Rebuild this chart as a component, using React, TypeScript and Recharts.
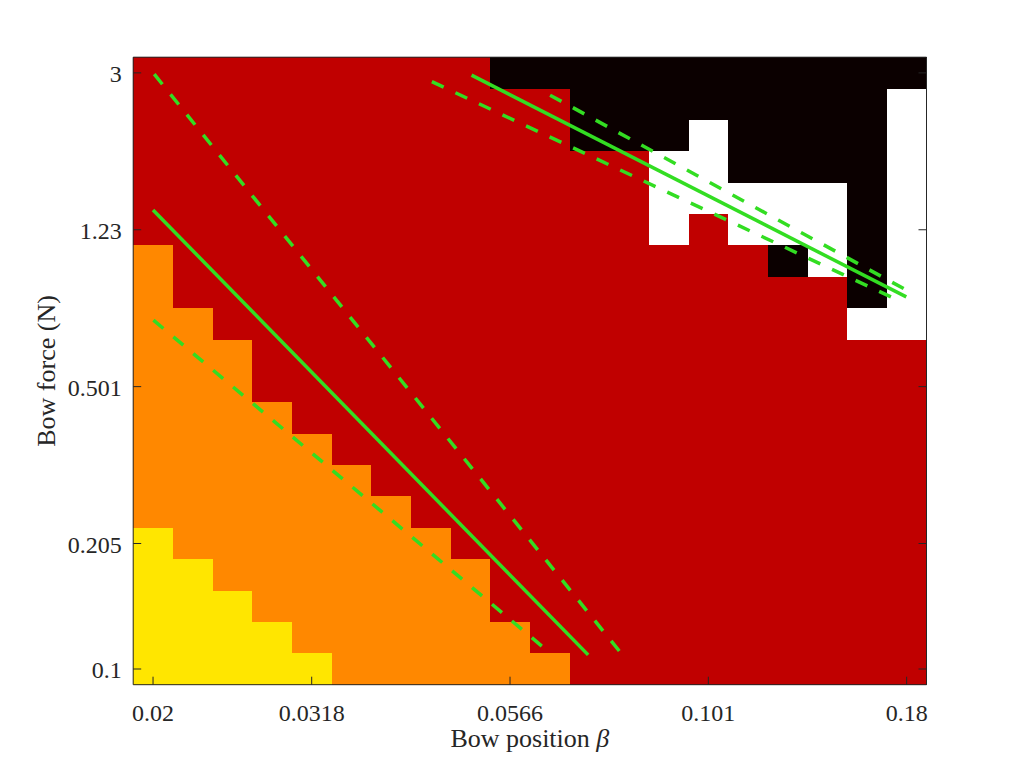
import { ComposedChart, Line, ReferenceArea, XAxis, YAxis } from 'recharts';

// bow position beta (columns) and bow force (rows), 20 x 20 grid, axes use the grid index
const X_TICKS = [1, 5, 10, 15, 20];
const X_TICK_LABELS = ['0.02', '0.0318', '0.0566', '0.101', '0.18'];
const Y_TICKS = [1, 5, 10, 15, 20];
const Y_TICK_LABELS = ['0.1', '0.205', '0.501', '1.23', '3'];

// regime per cell, first string = top row (3 N), first char = beta 0.02
// K black, R red, O orange, Y yellow, W white
const REGIME_ROWS = [
    'RRRRRRRRRKKKKKKKKKKK',
    'RRRRRRRRRRRKKKKKKKKW',
    'RRRRRRRRRRRKKKWKKKKW',
    'RRRRRRRRRRRRRWWKKKKW',
    'RRRRRRRRRRRRRWWWWWKW',
    'RRRRRRRRRRRRRWRWWWKW',
    'ORRRRRRRRRRRRRRRKWKW',
    'ORRRRRRRRRRRRRRRRRKW',
    'OORRRRRRRRRRRRRRRRWW',
    'OOORRRRRRRRRRRRRRRRR',
    'OOORRRRRRRRRRRRRRRRR',
    'OOOORRRRRRRRRRRRRRRR',
    'OOOOORRRRRRRRRRRRRRR',
    'OOOOOORRRRRRRRRRRRRR',
    'OOOOOOORRRRRRRRRRRRR',
    'YOOOOOOORRRRRRRRRRRR',
    'YYOOOOOOORRRRRRRRRRR',
    'YYYOOOOOORRRRRRRRRRR',
    'YYYYOOOOOORRRRRRRRRR',
    'YYYYYOOOOOORRRRRRRRR',
];

const REGIME_COLORS: Record<string, string> = {
    K: '#0b0000',
    R: '#c00000',
    O: '#ff8800',
    Y: '#ffe600',
    W: '#ffffff',
};

// limit lines (grid index coordinates)
const LOW_MID = [{ x: 1.0, y: 15.63 }, { x: 11.97, y: 1.45 }];
const LOW_UPPER = [{ x: 1.03, y: 19.96 }, { x: 12.77, y: 1.55 }];
const LOW_LOWER = [{ x: 1.01, y: 12.12 }, { x: 11.01, y: 1.51 }];
const HIGH_MID = [{ x: 9.03, y: 19.93 }, { x: 19.99, y: 12.86 }];
const HIGH_UPPER = [{ x: 11.01, y: 19.29 }, { x: 19.96, y: 13.1 }];
const HIGH_LOWER = [{ x: 8.03, y: 19.72 }, { x: 19.87, y: 12.7 }];

const W = 1024;
const H = 768;
const PLOT = { left: 133.2, right: 926.5, top: 57.2, bottom: 684.7 };
const AXIS = '#262626';
const GREEN = '#33dd22';
const FONT = '"Liberation Serif", "Times New Roman", serif';
const TICK_FONT = 24;
const TITLE_FONT = 26;
const TICK_LEN = 8;

const cells: { x1: number; x2: number; y1: number; y2: number; fill: string }[] = [];
REGIME_ROWS.forEach((row, i) => {
    const r = REGIME_ROWS.length - i;
    let start = 0;
    for (let c = 1; c <= row.length; c++) {
        if (c === row.length || row[c] !== row[start]) {
            cells.push({ x1: start + 0.5, x2: c + 0.5, y1: r - 0.5, y2: r + 0.5, fill: REGIME_COLORS[row[start]] });
            start = c;
        }
    }
});

const labelOf = (ticks: number[], labels: string[], v: number) => labels[ticks.indexOf(v)] ?? '';

const BottomTick = ({ x, y, payload }: any) => (
    <g>
        <line x1={x} y1={y} x2={x} y2={y - TICK_LEN} stroke={AXIS} strokeWidth={1} />
        <text x={x} y={y + 36} textAnchor="middle" fontSize={TICK_FONT} fontFamily={FONT} fill={AXIS}>
            {labelOf(X_TICKS, X_TICK_LABELS, payload.value)}
        </text>
    </g>
);

const TopTick = ({ x, y }: any) => (
    <line x1={x} y1={y} x2={x} y2={y + TICK_LEN} stroke={AXIS} strokeWidth={1} />
);

const LeftTick = ({ x, y, payload }: any) => (
    <g>
        <line x1={x} y1={y} x2={x + TICK_LEN} y2={y} stroke={AXIS} strokeWidth={1} />
        <text x={x - 11.5} y={y + 9} textAnchor="end" fontSize={TICK_FONT} fontFamily={FONT} fill={AXIS}>
            {labelOf(Y_TICKS, Y_TICK_LABELS, payload.value)}
        </text>
    </g>
);

const RightTick = ({ x, y }: any) => (
    <line x1={x} y1={y} x2={x - TICK_LEN} y2={y} stroke={AXIS} strokeWidth={1} />
);

const XTitle = () => (
    <text x={(PLOT.left + PLOT.right) / 2} y={747} textAnchor="middle" fontSize={TITLE_FONT} fontFamily={FONT} fill={AXIS}>
        Bow position <tspan fontStyle="italic">β</tspan>
    </text>
);

const YTitle = () => {
    const cx = 55;
    const cy = (PLOT.top + PLOT.bottom) / 2;
    return (
        <text x={cx} y={cy} transform={`rotate(-90 ${cx} ${cy})`} textAnchor="middle" fontSize={TITLE_FONT} fontFamily={FONT} fill={AXIS}>
            Bow force (N)
        </text>
    );
};

const App = () => {
    const series = [
        { key: 'low-mid', data: LOW_MID, dash: undefined },
        { key: 'low-upper', data: LOW_UPPER, dash: '13 13' },
        { key: 'low-lower', data: LOW_LOWER, dash: '13 13' },
        { key: 'high-mid', data: HIGH_MID, dash: undefined },
        { key: 'high-upper', data: HIGH_UPPER, dash: '13 13' },
        { key: 'high-lower', data: HIGH_LOWER, dash: '13 13' },
    ];

    return (
        <div style={{ position: 'absolute', left: 0, top: 0, width: W, height: H, background: '#fff' }}>
            <ComposedChart
                width={W}
                height={H}
                margin={{ top: PLOT.top - 1, right: W - PLOT.right - 1, bottom: 0, left: 0 }}
            >
                {cells.map((c, i) => (
                    <ReferenceArea
                        key={`cell-${i}`}
                        xAxisId="b"
                        yAxisId="l"
                        x1={c.x1}
                        x2={c.x2}
                        y1={c.y1}
                        y2={c.y2}
                        fill={c.fill}
                        fillOpacity={1}
                        stroke="none"
                        shapeRendering="crispEdges"
                    />
                ))}

                {series.map((s) => (
                    <Line
                        key={s.key}
                        xAxisId="b"
                        yAxisId="l"
                        data={s.data}
                        dataKey="y"
                        type="linear"
                        stroke={GREEN}
                        strokeWidth={3.5}
                        strokeDasharray={s.dash}
                        dot={false}
                        activeDot={false}
                        isAnimationActive={false}
                    />
                ))}

                <XAxis
                    xAxisId="b"
                    dataKey="x"
                    type="number"
                    domain={[0.5, 20.5]}
                    ticks={X_TICKS}
                    height={H - PLOT.bottom}
                    tickSize={0}
                    tickMargin={0}
                    tickLine={false}
                    axisLine={{ stroke: AXIS, strokeWidth: 1 }}
                    tick={<BottomTick />}
                    interval={0}
                    allowDataOverflow
                    label={<XTitle />}
                />
                <XAxis
                    xAxisId="t"
                    orientation="top"
                    type="number"
                    domain={[0.5, 20.5]}
                    ticks={X_TICKS}
                    height={1}
                    tickSize={0}
                    tickMargin={0}
                    tickLine={false}
                    axisLine={{ stroke: AXIS, strokeWidth: 1 }}
                    tick={<TopTick />}
                    interval={0}
                    allowDataOverflow
                />
                <YAxis
                    yAxisId="l"
                    type="number"
                    domain={[0.5, 20.5]}
                    ticks={Y_TICKS}
                    width={PLOT.left}
                    tickSize={0}
                    tickMargin={0}
                    tickLine={false}
                    axisLine={{ stroke: AXIS, strokeWidth: 1 }}
                    tick={<LeftTick />}
                    interval={0}
                    allowDataOverflow
                    label={<YTitle />}
                />
                <YAxis
                    yAxisId="r"
                    orientation="right"
                    type="number"
                    domain={[0.5, 20.5]}
                    ticks={Y_TICKS}
                    width={1}
                    tickSize={0}
                    tickMargin={0}
                    tickLine={false}
                    axisLine={{ stroke: AXIS, strokeWidth: 1 }}
                    tick={<RightTick />}
                    interval={0}
                    allowDataOverflow
                />
            </ComposedChart>
        </div>
    );
};

export default App;
